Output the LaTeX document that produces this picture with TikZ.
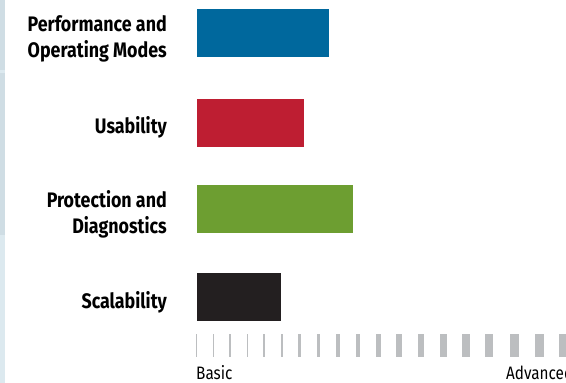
\documentclass[tikz,border=0pt]{standalone}
\usepackage{fontspec}
\setmainfont{Fira Sans}[FakeStretch=0.85]
\definecolor{perfblue}{RGB}{0,104,157}
\definecolor{usered}{RGB}{190,30,50}
\definecolor{protgreen}{RGB}{109,158,49}
\definecolor{scalblack}{RGB}{35,31,32}
\definecolor{tickgray}{RGB}{188,190,192}
\definecolor{stripA}{RGB}{207,221,228}
\definecolor{stripB}{RGB}{220,233,239}

\begin{document}
\begin{tikzpicture}[x=1pt,y=-1pt,
    label/.style={font=\fontsize{21}{26.3}\selectfont\bfseries, align=right, anchor=base east, inner sep=0pt},
    scalelabel/.style={font=\fontsize{18}{22}\selectfont, anchor=base west, inner sep=0pt}]
		%%%%% START %%%%%
		\useasboundingbox (0,0) rectangle (566,383);
		\clip (0,0) rectangle (566,383);
		
		\fill[stripA] (0,0) rectangle (5,70);
		\fill[stripB] (0,70) rectangle (5,73);
		\fill[stripA] (0,73) rectangle (5,235);
		\fill[stripB] (0,235) rectangle (5,383);
		
		\node[label] (perf) at (167,57.3) {Performance and\\Operating Modes};
		\node[label] (use) at (167,133.3) {Usability};
		\node[label] (prot) at (167,233.3) {Protection and\\Diagnostics};
		\node[label] (scal) at (167,308.3) {Scalability};
		
		\fill[perfblue] (197,9) rectangle (329,57);
		\fill[usered] (197,99) rectangle (304,147);
		\fill[protgreen] (197,185) rectangle (353,233);
		\fill[scalblack] (197,273) rectangle (281,321);
		
		\foreach \x/\w in {196/1, 213.3/1, 230/1.3, 247.3/1.4, 264.3/1.7, 282/2, 299.7/2.5, 318.3/3, 338/3.8, 357.7/4.3, 378/5, 399/5.5, 420.7/6, 443.3/6.7, 466/7.3, 489.3/8, 514.3/8.7, 539.3/9.3, 563.5/10}
		  \fill[tickgray] ({\x-\w/2},334) rectangle ({\x+\w/2},357);
		
		\node[scalelabel] (basic) at (196,379.5) {Basic};
		\node[scalelabel] (adv) at (506,379.5) {Advanced};
		%%%%% END %%%%%
\end{tikzpicture}
\end{document}
